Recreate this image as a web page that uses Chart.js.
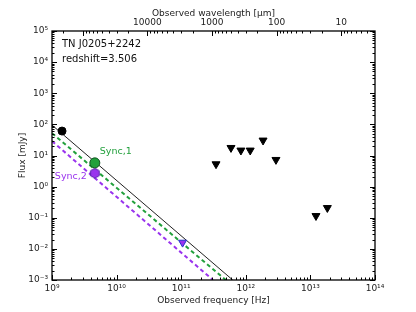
<!DOCTYPE html>
<html>
<head>
<meta charset="utf-8">
<script src="https://cdn.jsdelivr.net/npm/chart.js@4.4.0/dist/chart.umd.min.js"></script>
<style>
  html, body { margin: 0; padding: 0; background: #fff; }
</style>
</head>
<body>
<canvas id="sed" width="416" height="312"></canvas>
<script>
/* ---- data (frequency in Hz, flux in mJy) ---- */
const radioFreq = [1.43e9];
const radioFlux = [61];
const sync1Freq = [4.6e9];
const sync1Flux = [5.8];
const sync2Freq = [4.6e9];
const sync2Flux = [2.7];
const midFreq = [1.05e11];
const midFlux = [0.016];
const limitFreq = [3.46e11, 5.9e11, 8.4e11, 1.17e12, 1.85e12, 2.93e12, 1.22e13, 1.83e13];
const limitFlux = [5.3, 17.7, 14.6, 14.6, 30.6, 7.3, 0.115, 0.208];

/* power-law lines: two end points each */
const totalLineFreq = [1e9, 6.27e11];
const totalLineFlux = [95, 1e-3];
const sync1LineFreq = [1e9, 4.9e11];
const sync1LineFlux = [52, 1e-3];
const sync2LineFreq = [1e9, 3.1e11];
const sync2LineFlux = [29, 1e-3];

/* axes */
const freqRange = [1e9, 1e14];
const fluxRange = [1e-3, 1e5];
const wavelengthLabels = [10000, 1000, 100, 10];
const C_UM = 2.998e14;            // speed of light in micron / s

const GREEN = '#22a03c';
const PURPLE = '#9933ee';
const FONT = "'DejaVu Sans', sans-serif";

const toPoints = (xs, ys) => xs.map((x, i) => ({ x, y: ys[i] }));
const isPow10 = (v) => Math.abs(Math.log10(v) - Math.round(Math.log10(v))) < 1e-6;
const isNice = (v) => {
  const s = v / Math.pow(10, Math.floor(Math.log10(v) + 1e-9));
  return Math.abs(s - Math.round(s)) < 1e-6;
};
const SUP = { '0': '⁰', '1': '¹', '2': '²', '3': '³', '4': '⁴', '5': '⁵', '6': '⁶', '7': '⁷', '8': '⁸', '9': '⁹', '-': '⁻' };
const powLabel = (v) => '10' + String(Math.round(Math.log10(v))).split('').map((c) => SUP[c]).join('');

/* matplotlib-ish hexagon marker */
function hexagon(r, fill, stroke) {
  const c = document.createElement('canvas');
  const s = Math.ceil(2 * r + 2);
  c.width = c.height = s;
  const g = c.getContext('2d');
  g.beginPath();
  for (let i = 0; i < 6; i++) {
    const a = -Math.PI / 2 + i * Math.PI / 3;
    g.lineTo(s / 2 + r * Math.cos(a), s / 2 + r * Math.sin(a));
  }
  g.closePath();
  g.fillStyle = fill; g.fill();
  g.strokeStyle = stroke; g.lineWidth = 1; g.stroke();
  return c;
}

/* ---- frame, inward ticks and text labels ---- */
const framePlugin = {
  id: 'frame',
  afterDatasetsDraw(chart) {
    const { ctx, chartArea: a, scales } = chart;
    ctx.save();
    ctx.strokeStyle = '#000';
    ctx.lineWidth = 1;
    ctx.beginPath();
    scales.y.ticks.forEach((t) => {
      if (!isNice(t.value)) return;
      const p = Math.round(scales.y.getPixelForValue(t.value)) + 0.5;
      const len = isPow10(t.value) ? 5 : 2.5;
      ctx.moveTo(a.left, p); ctx.lineTo(a.left + len, p);
      ctx.moveTo(a.right, p); ctx.lineTo(a.right - len, p);
    });
    scales.x.ticks.forEach((t) => {
      if (!isNice(t.value)) return;
      const p = Math.round(scales.x.getPixelForValue(t.value)) + 0.5;
      const len = isPow10(t.value) ? 5 : 2.5;
      ctx.moveTo(p, a.bottom); ctx.lineTo(p, a.bottom - len);
    });
    scales.x2.ticks.forEach((t) => {
      if (!isNice(t.value)) return;
      const p = Math.round(scales.x2.getPixelForValue(t.value)) + 0.5;
      const len = isPow10(t.value) ? 5 : 2.5;
      ctx.moveTo(p, a.top); ctx.lineTo(p, a.top + len);
    });
    ctx.stroke();
    ctx.lineWidth = 1.3;
    ctx.strokeRect(a.left, a.top, a.right - a.left, a.bottom - a.top);

    ctx.textBaseline = 'middle';
    ctx.fillStyle = '#111';
    ctx.font = `10px ${FONT}`;
    ctx.textAlign = 'left';
    ctx.fillText('TN J0205+2242', a.left + 10, a.top + 13);
    ctx.fillText('redshift=3.506', a.left + 10, a.top + 28);

    ctx.font = `9.5px ${FONT}`;
    const s1x = scales.x.getPixelForValue(sync1Freq[0]);
    const s1y = scales.y.getPixelForValue(sync1Flux[0]);
    ctx.fillStyle = GREEN;
    ctx.fillText('Sync,1', s1x + 5, s1y - 11);
    const s2x = scales.x.getPixelForValue(sync2Freq[0]);
    const s2y = scales.y.getPixelForValue(sync2Flux[0]);
    ctx.fillStyle = PURPLE;
    ctx.textAlign = 'right';
    ctx.fillText('Sync,2', s2x - 8, s2y + 3);
    ctx.restore();
  },
};

const tickFont = { family: FONT, size: 9 };
const titleFont = { family: FONT, size: 9 };

new Chart(document.getElementById('sed'), {
  type: 'scatter',
  data: {
    datasets: [
      { data: toPoints(radioFreq, radioFlux), pointStyle: 'circle', radius: 4,
        backgroundColor: '#000', borderColor: '#000', borderWidth: 1 },
      { data: toPoints(sync1Freq, sync1Flux), pointStyle: 'circle', radius: 5,
        backgroundColor: GREEN, borderColor: '#115522', borderWidth: 1 },
      { data: toPoints(sync2Freq, sync2Flux), pointStyle: hexagon(5, PURPLE, '#5522aa'), radius: 5 },
      { data: toPoints(midFreq, midFlux), pointStyle: 'triangle', rotation: 180, radius: 4.6,
        backgroundColor: PURPLE, borderColor: '#2233cc', borderWidth: 1 },
      { data: toPoints(limitFreq, limitFlux), pointStyle: 'triangle', rotation: 180, radius: 4.6,
        backgroundColor: '#000', borderColor: '#000', borderWidth: 1 },
      { type: 'line', data: toPoints(totalLineFreq, totalLineFlux), borderColor: '#222',
        borderWidth: 1, pointRadius: 0, tension: 0 },
      { type: 'line', data: toPoints(sync1LineFreq, sync1LineFlux), borderColor: GREEN,
        borderWidth: 2, borderDash: [4, 3], pointRadius: 0, tension: 0 },
      { type: 'line', data: toPoints(sync2LineFreq, sync2LineFlux), borderColor: PURPLE,
        borderWidth: 2, borderDash: [4, 3], pointRadius: 0, tension: 0 },
    ],
  },
  options: {
    responsive: false,
    animation: false,
    events: [],
    layout: { padding: { left: 0, right: 41, top: 0, bottom: 0 } },
    plugins: { legend: { display: false }, tooltip: { enabled: false } },
    scales: {
      x: {
        type: 'logarithmic', position: 'bottom', min: freqRange[0], max: freqRange[1],
        grid: { display: false, drawTicks: false }, border: { display: false },
        ticks: { autoSkip: false, maxRotation: 0, padding: 3, color: '#222', font: tickFont,
          callback: (v) => (isPow10(v) ? powLabel(v) : '') },
        title: { display: true, text: 'Observed frequency [Hz]', color: '#222', font: titleFont,
          padding: { top: 0, bottom: 6 } },
        afterFit: (s) => { s.height = 32; },
      },
      x2: {
        type: 'logarithmic', position: 'top', reverse: true,
        min: C_UM / freqRange[1], max: C_UM / freqRange[0],
        grid: { display: false, drawTicks: false }, border: { display: false },
        ticks: { autoSkip: false, maxRotation: 0, padding: 3, color: '#222', font: tickFont,
          callback: (v) => (wavelengthLabels.some((w) => Math.abs(w - v) < 1e-6 * w) ? String(Math.round(v)) : '') },
        title: { display: true, text: 'Observed wavelength [µm]', color: '#222', font: titleFont,
          padding: { top: 8, bottom: 0 } },
        afterFit: (s) => { s.height = 31; },
      },
      y: {
        type: 'logarithmic', position: 'left', min: fluxRange[0], max: fluxRange[1],
        grid: { display: false, drawTicks: false }, border: { display: false },
        ticks: { autoSkip: false, padding: 4, color: '#222', font: tickFont,
          callback: (v) => (isPow10(v) ? powLabel(v) : '') },
        title: { display: true, text: 'Flux [mJy]', color: '#222', font: titleFont,
          padding: { top: 17, bottom: 0 } },
        afterFit: (s) => { s.width = 52; },
      },
    },
  },
  plugins: [framePlugin],
});
</script>
</body>
</html>
